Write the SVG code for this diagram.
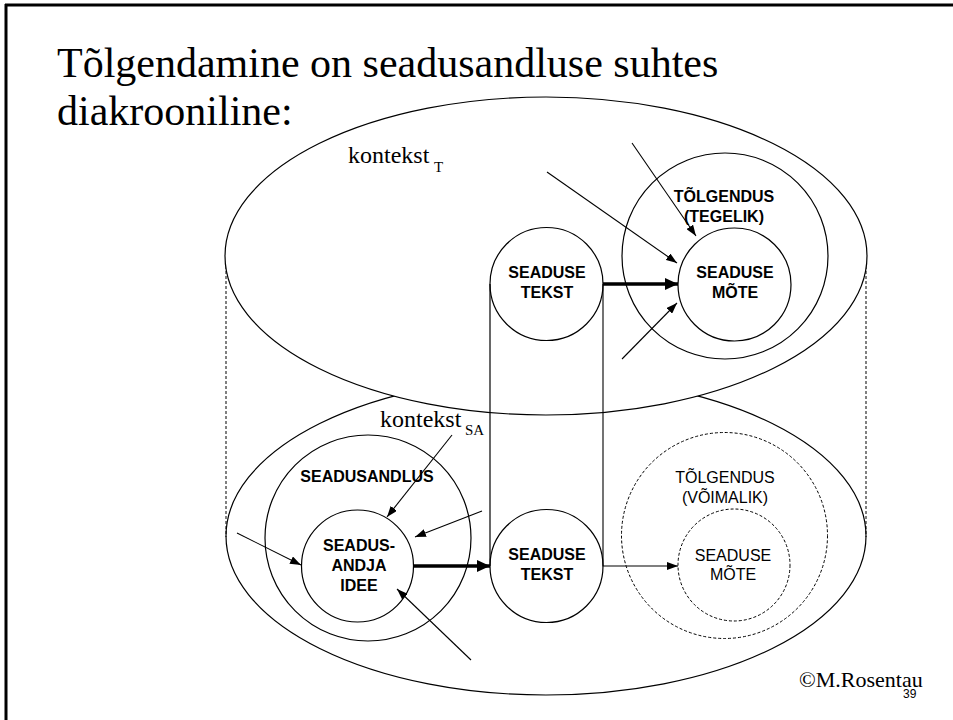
<svg xmlns="http://www.w3.org/2000/svg" width="953" height="720" viewBox="0 0 953 720">
<style>
.bg{fill:#fff}
.ln{fill:none;stroke:#000;stroke-width:1.2}
.node{fill:#fff;stroke:#000;stroke-width:1.2}
.dnode{fill:#fff;stroke:#000;stroke-width:1;stroke-dasharray:3 2}
.dash{fill:none;stroke:#000;stroke-width:1;stroke-dasharray:3 2}
.thin{fill:none;stroke:#000;stroke-width:1.1;marker-end:url(#ah)}
.thick{fill:none;stroke:#000;stroke-width:3.5;marker-end:url(#ahb)}
.title{font-family:"Liberation Serif","Times New Roman",serif;font-size:42px;fill:#000}
.ctx{font-family:"Liberation Serif","Times New Roman",serif;font-size:24px;fill:#000}
.sub{font-family:"Liberation Serif","Times New Roman",serif;font-size:15px;fill:#000}
.lb{font-family:"Liberation Sans",Arial,sans-serif;font-size:16px;font-weight:bold;text-anchor:middle;fill:#000}
.lr{font-family:"Liberation Sans",Arial,sans-serif;font-size:16px;text-anchor:middle;fill:#000}
</style>
<defs>
<marker id="ah" markerUnits="userSpaceOnUse" markerWidth="11" markerHeight="8" refX="11" refY="4" orient="auto">
<path d="M0,0 L11,4 L0,8 z" fill="#000"/>
</marker>
<marker id="ahb" markerUnits="userSpaceOnUse" markerWidth="13" markerHeight="12" refX="13" refY="6" orient="auto">
<path d="M0,0 L13,6 L0,12 z" fill="#000"/>
</marker>
</defs>
<rect class="bg" x="0" y="0" width="953" height="720"/>
<g id="frame">
<line x1="6" y1="4" x2="6" y2="720" stroke="#000" stroke-width="3"/>
<line x1="5" y1="5" x2="953" y2="5" stroke="#000" stroke-width="3"/>
</g>
<g id="title">
<text class="title" x="57" y="77">Tõlgendamine on seadusandluse suhtes</text>
<text class="title" x="57" y="125">diakrooniline:</text>
</g>
<g id="context-sa">
<ellipse class="node" cx="546" cy="536" rx="320" ry="159"/>
</g>
<g id="cylinder-sides">
<line class="dash" x1="226" y1="256" x2="226" y2="537"/>
<line class="dash" x1="866" y1="256" x2="866" y2="537"/>
</g>
<g id="context-t">
<ellipse class="node" cx="546" cy="256" rx="321" ry="159"/>
</g>
<g id="label-kontekst-t">
<text class="ctx" x="348" y="163">kontekst</text>
<text class="sub" x="434" y="172">T</text>
</g>
<g id="label-kontekst-sa">
<text class="ctx" x="380" y="427">kontekst</text>
<text class="sub" x="465" y="435">SA</text>
</g>
<g id="toelgendus-tegelik">
<circle class="node" cx="725" cy="256" r="103"/>
<text class="lb" x="724" y="202">TÕLGENDUS</text>
<text class="lb" x="724" y="222">(TEGELIK)</text>
</g>
<g id="seaduse-mote-top">
<circle class="node" cx="734.5" cy="284.5" r="56.5"/>
<text class="lb" x="735" y="278">SEADUSE</text>
<text class="lb" x="735" y="298">MÕTE</text>
</g>
<g id="seaduse-tekst-top">
<circle class="node" cx="546.5" cy="284" r="56.5"/>
<text class="lb" x="547" y="278">SEADUSE</text>
<text class="lb" x="547" y="298">TEKST</text>
</g>
<g id="seadusandlus">
<circle class="node" cx="368" cy="538" r="103"/>
<text class="lb" x="367" y="482">SEADUSANDLUS</text>
</g>
<g id="seadusandja-idee">
<circle class="node" cx="357.5" cy="566" r="56"/>
<text class="lb" x="359" y="551">SEADUS-</text>
<text class="lb" x="359" y="571">ANDJA</text>
<text class="lb" x="359" y="591">IDEE</text>
</g>
<g id="seaduse-tekst-bottom">
<circle class="node" cx="546.5" cy="566" r="56.5"/>
<text class="lb" x="547" y="560">SEADUSE</text>
<text class="lb" x="547" y="580">TEKST</text>
</g>
<g id="toelgendus-voimalik">
<circle class="dnode" cx="724.5" cy="535.5" r="103"/>
<text class="lr" x="725" y="483">TÕLGENDUS</text>
<text class="lr" x="725" y="503">(VÕIMALIK)</text>
</g>
<g id="seaduse-mote-bottom">
<circle class="dnode" cx="734" cy="565" r="56"/>
<text class="lr" x="733" y="561">SEADUSE</text>
<text class="lr" x="733" y="580">MÕTE</text>
</g>
<g id="connectors">
<path class="ln" d="M490,284 L490,566"/>
<path class="thin" d="M603,284 L603,566 L678,566"/>
<line class="thick" x1="603" y1="284" x2="678" y2="284"/>
<line class="thick" x1="413" y1="566" x2="490" y2="566"/>
<line class="thin" x1="632" y1="143" x2="696" y2="236"/>
<line class="thin" x1="547" y1="172" x2="677" y2="263"/>
<line class="thin" x1="622" y1="359" x2="677" y2="303"/>
<line class="thin" x1="452" y1="435" x2="387" y2="517"/>
<line class="thin" x1="482" y1="511" x2="415" y2="537"/>
<line class="thin" x1="237" y1="533" x2="301" y2="565"/>
<line class="thin" x1="471" y1="660" x2="397" y2="589"/>
</g>
<g id="footer">
<text x="799" y="687" font-family="'Liberation Serif','Times New Roman',serif" font-size="22">©M.Rosentau</text>
<text x="903" y="698" font-family="'Liberation Sans',Arial,sans-serif" font-size="12">39</text>
</g>
</svg>
